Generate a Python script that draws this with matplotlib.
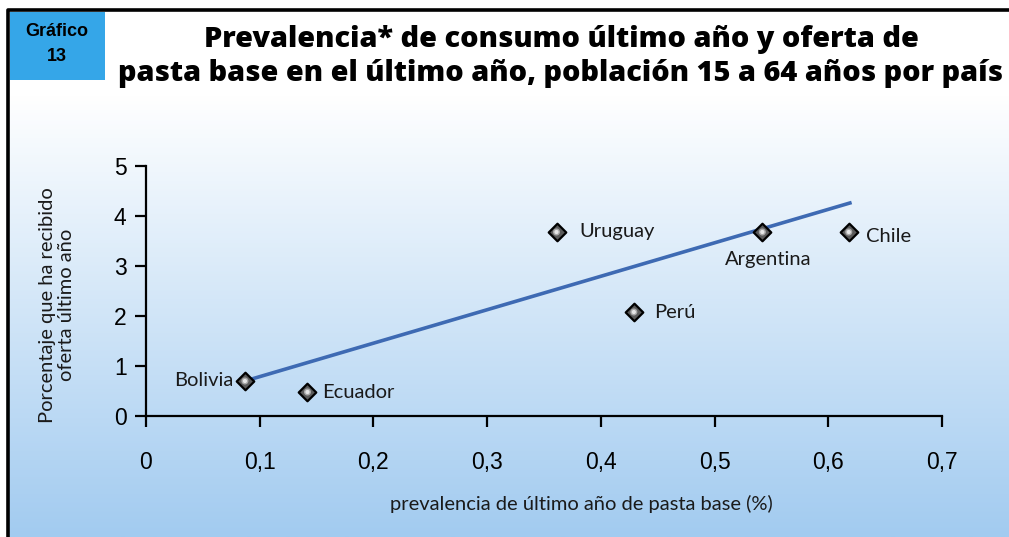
import numpy as np
import matplotlib
matplotlib.use('Agg')
from matplotlib import pyplot as plt
from matplotlib.colors import LinearSegmentedColormap
from matplotlib.patches import Rectangle

# data
paises = ['Bolivia', 'Ecuador', 'Uruguay', 'Perú', 'Argentina', 'Chile']
prevalencia = [0.087, 0.142, 0.361, 0.429, 0.542, 0.618]
oferta = [0.70, 0.48, 3.68, 2.08, 3.68, 3.68]
# trend line end points (as drawn in the original)
trend_x = [0.087, 0.619]
trend_y = [0.70, 4.26]
xticks = [0, 0.1, 0.2, 0.3, 0.4, 0.5, 0.6, 0.7]
yticks = [0, 1, 2, 3, 4, 5]

# label placement (pixels offset from the point, horizontal alignment)
label_pos = {
  'Bolivia': (-12, 0, 'right'),
  'Ecuador': (15, -1, 'left'),
  'Uruguay': (23, 0, 'left'),
  'Perú': (20, -1, 'left'),
  'Argentina': (6, -27, 'center'),
  'Chile': (17, -5, 'left'),
}

W, H = 1009, 537
fig = plt.figure(figsize=(W/100, H/100), dpi=100)

#--------------------------------------------------------------------------------------------
# background gradient + frame
bg = fig.add_axes([0, 0, 1, 1], zorder=-10)
bg.set_xlim(0, W); bg.set_ylim(H, 0); bg.axis('off')
cmap = LinearSegmentedColormap.from_list('bg', ['#ffffff', '#a2cbf0'])
grad = np.linspace(0, 1, 256).reshape(-1, 1)
bg.imshow(grad, cmap=cmap, extent=[8, W + 5, H, 95], aspect='auto', interpolation='bilinear')
bg.plot([8, 8, W + 5], [H + 5, 10, 10], color='black', lw=2.6, solid_capstyle='butt')
bg.add_patch(Rectangle((10, 12), 95, 68, facecolor='#35a6e8', edgecolor='none'))
bg.text(57, 44, 'Gráfico\n13', ha='center', va='center', fontsize=13, fontweight='bold',
        family='Liberation Sans', linespacing=1.55)
title_font = dict(family='Open Sans', fontweight='extra bold', fontsize=20.8, ha='center', va='center')
bg.text(561, 39, 'Prevalencia* de consumo último año y oferta de', **title_font)
bg.text(561, 73, 'pasta base en el último año, población 15 a 64 años por país', **title_font)

# axis titles (placed off-centre as in the original)
lab_font = dict(family='Lato', fontsize=14.5, color='#1a1a1a')
bg.text(57, 305, 'Porcentaje que ha recibido\noferta último año', rotation=90, ha='center',
        va='center', multialignment='center', linespacing=1.2, **lab_font)
bg.text(581, 504, 'prevalencia de último año de pasta base (%)', ha='center', va='center', **lab_font)

#--------------------------------------------------------------------------------------------
ax = fig.add_axes([146/W, 1 - 416/H, (942 - 146)/W, (416 - 166)/H])
ax.patch.set_alpha(0)
ax.plot(trend_x, trend_y, color='#3e6ab3', lw=2.6, zorder=2)
# diamond markers with a light centre (imitating the shaded original)
ax.scatter(prevalencia, oferta, marker='D', s=80, facecolor='#5a5a5a', edgecolor='black',
           linewidths=1.6, zorder=3)
ax.scatter(prevalencia, oferta, marker='o', s=26, facecolor='#a8a8a8', edgecolor='none', zorder=4)
ax.scatter(prevalencia, oferta, marker='o', s=9, facecolor='#e6e6e6', edgecolor='none', zorder=5)

for name, x, y in zip(paises, prevalencia, oferta):
  dx, dy, ha = label_pos[name]
  ax.annotate(name, (x, y), xytext=(dx, dy), textcoords='offset pixels', ha=ha, va='center', **lab_font)

ax.set_xlim(0, 0.7)
ax.set_ylim(0, 5)
ax.set_xticks(xticks)
ax.set_xticklabels(['0' if v == 0 else ('%.1f' % v).replace('.', ',') for v in xticks],
                   family='Liberation Sans', fontsize=16.5)
ax.set_yticks(yticks)
ax.set_yticklabels([str(v) for v in yticks], family='Liberation Sans', fontsize=16.5)
for s in ['top', 'right']:
  ax.spines[s].set_visible(False)
for s in ['left', 'bottom']:
  ax.spines[s].set_linewidth(1.6)
ax.tick_params(axis='x', direction='out', length=8, width=1.6, pad=17)
ax.tick_params(axis='y', direction='out', length=8, width=1.6, pad=6)

plt.savefig('out.png', dpi=100)
